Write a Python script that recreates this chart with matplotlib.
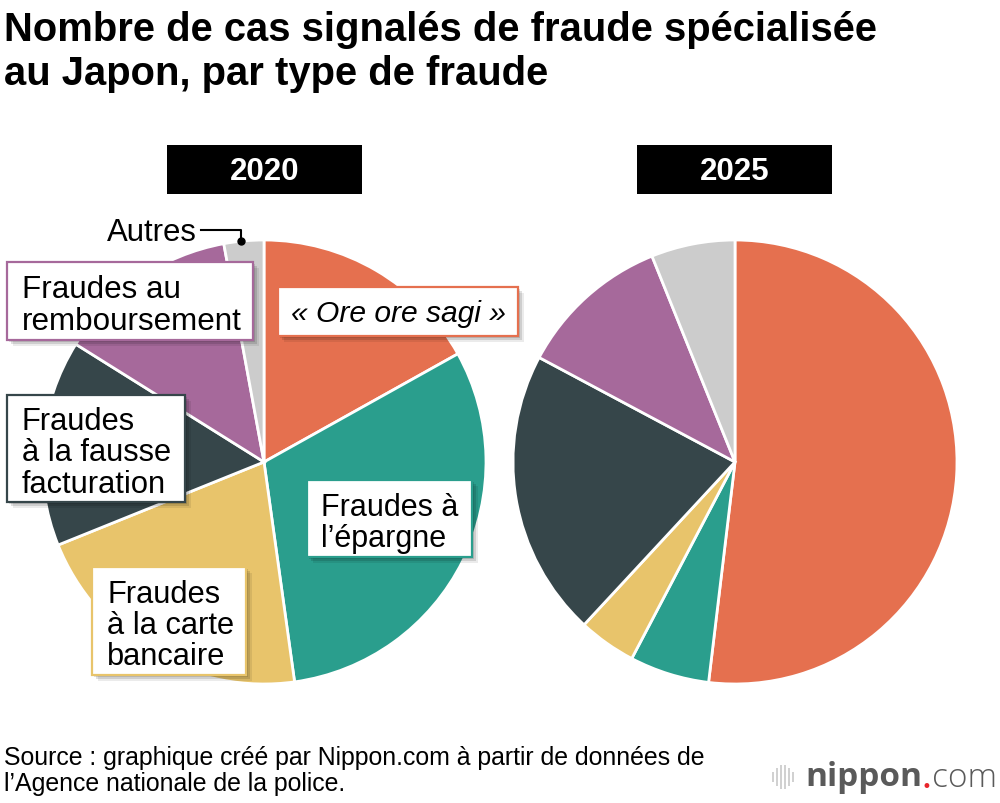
import matplotlib
matplotlib.use("Agg")
import matplotlib.pyplot as plt
from matplotlib.patches import Rectangle
import matplotlib.patheffects as pe

# ---- data (shares in %) ----
categories = ["« Ore ore sagi »", "Fraudes à l’épargne", "Fraudes à la carte bancaire",
              "Fraudes à la fausse facturation", "Fraudes au remboursement", "Autres"]
share_2020 = [16.9, 30.9, 21.1, 15.0, 13.2, 2.9]
share_2025 = [51.9, 5.8, 4.2, 20.9, 11.1, 6.1]
years = ["2020", "2025"]
colors = ["#E5704F", "#2A9E8D", "#E8C46B", "#36464A", "#A6699B", "#CCCCCC"]

title = "Nombre de cas signalés de fraude spécialisée\nau Japon, par type de fraude"
source = "Source : graphique créé par Nippon.com à partir de données de\nl’Agence nationale de la police."

FONT = "Liberation Sans"
W, H = 1000, 804
fig = plt.figure(figsize=(10, 8.04), dpi=100)
ax = fig.add_axes([0, 0, 1, 1])

centers = [(264, 463), (735, 463)]
R = 222
for (cx, cy), vals in zip(centers, [share_2020, share_2025]):
    ax.pie(vals, colors=colors, center=(cx, cy), radius=R, startangle=-90,
           counterclock=True, wedgeprops=dict(edgecolor="white", linewidth=2),
           normalize=True)

ax.set_xlim(0, W)
ax.set_ylim(H, 0)
ax.set_aspect("auto")
ax.axis("off")

# title
ax.text(4, 11, title, ha="left", va="top", fontsize=28.8, fontweight="bold",
        family=FONT, color="black", linespacing=1.2)

# year headers
for (x0, x1), yr in zip([(167, 362), (637, 832)], years):
    ax.add_patch(Rectangle((x0, 146), x1 - x0, 49, facecolor="black", edgecolor="none", zorder=5))
    ax.text((x0 + x1) / 2, 172, yr, ha="center", va="center", color="white",
            fontsize=22.5, fontweight="bold", family=FONT, zorder=6)

shadow = [pe.SimplePatchShadow(offset=(1.5, -1.5), shadow_rgbFace="black", alpha=0.12),
          pe.SimplePatchShadow(offset=(3, -3), shadow_rgbFace="black", alpha=0.12),
          pe.SimplePatchShadow(offset=(4.5, -4.5), shadow_rgbFace="black", alpha=0.08),
          pe.Normal()]

def label_box(x0, y0, x1, y1, text, color, tx, italic=False, ha="left", dy=4, fs=22.4):
    r = Rectangle((x0, y0), x1 - x0, y1 - y0, facecolor="white", edgecolor=color,
                  linewidth=1.6, zorder=7)
    r.set_path_effects(shadow)
    ax.add_patch(r)
    ax.text(tx, (y0 + y1) / 2 + dy, text, ha=ha, va="center", fontsize=fs, family=FONT,
            style="italic" if italic else "normal", color="black",
            linespacing=1.05, zorder=8)

label_box(278, 288, 518, 337, categories[0], colors[0], 398, italic=True, ha="center", dy=2, fs=21.6)
label_box(307, 481, 472, 558, "Fraudes à\nl’épargne", colors[1], 321, fs=22.0)
label_box(92, 568, 246, 676, "Fraudes\nà la carte\nbancaire", colors[2], 107, fs=22.2)
label_box(7, 396, 185, 503, "Fraudes\nà la fausse\nfacturation", colors[3], 22, fs=22.2)
label_box(7, 263, 253, 341, "Fraudes au\nremboursement", colors[4], 22, fs=22.6)

# Autres
ax.text(107, 233, categories[5], ha="left", va="center", fontsize=22.4, family=FONT, color="black", zorder=8)
ax.plot([201, 241, 241], [231, 231, 240], color="black", lw=1.5, zorder=8)
ax.plot([241], [242], "o", color="black", ms=5, zorder=9)

# source
ax.text(4, 771, source, ha="left", va="center", fontsize=17.95, family=FONT,
        color="black", linespacing=1.12)

# logo
bar_x = [773, 777, 781, 785, 789, 793]
bar_h = [10, 18, 24, 24, 18, 10]
for bx, bh in zip(bar_x, bar_h):
    ax.plot([bx, bx], [778 - bh / 2, 778 + bh / 2], color="#C8C8C8", lw=1.2, solid_capstyle="butt")
ax.text(805, 778, "nippon", ha="left", va="center", fontsize=24, fontweight="bold",
        family="Open Sans", color="#5A5A5A")
ax.text(921, 787, "•", ha="left", va="center", fontsize=12, color="#E8262B", family="DejaVu Sans")
ax.text(932, 778, "com", ha="left", va="center", fontsize=24, fontweight="light",
        family="Open Sans", color="#5A5A5A")

fig.savefig("out.png", dpi=100)
